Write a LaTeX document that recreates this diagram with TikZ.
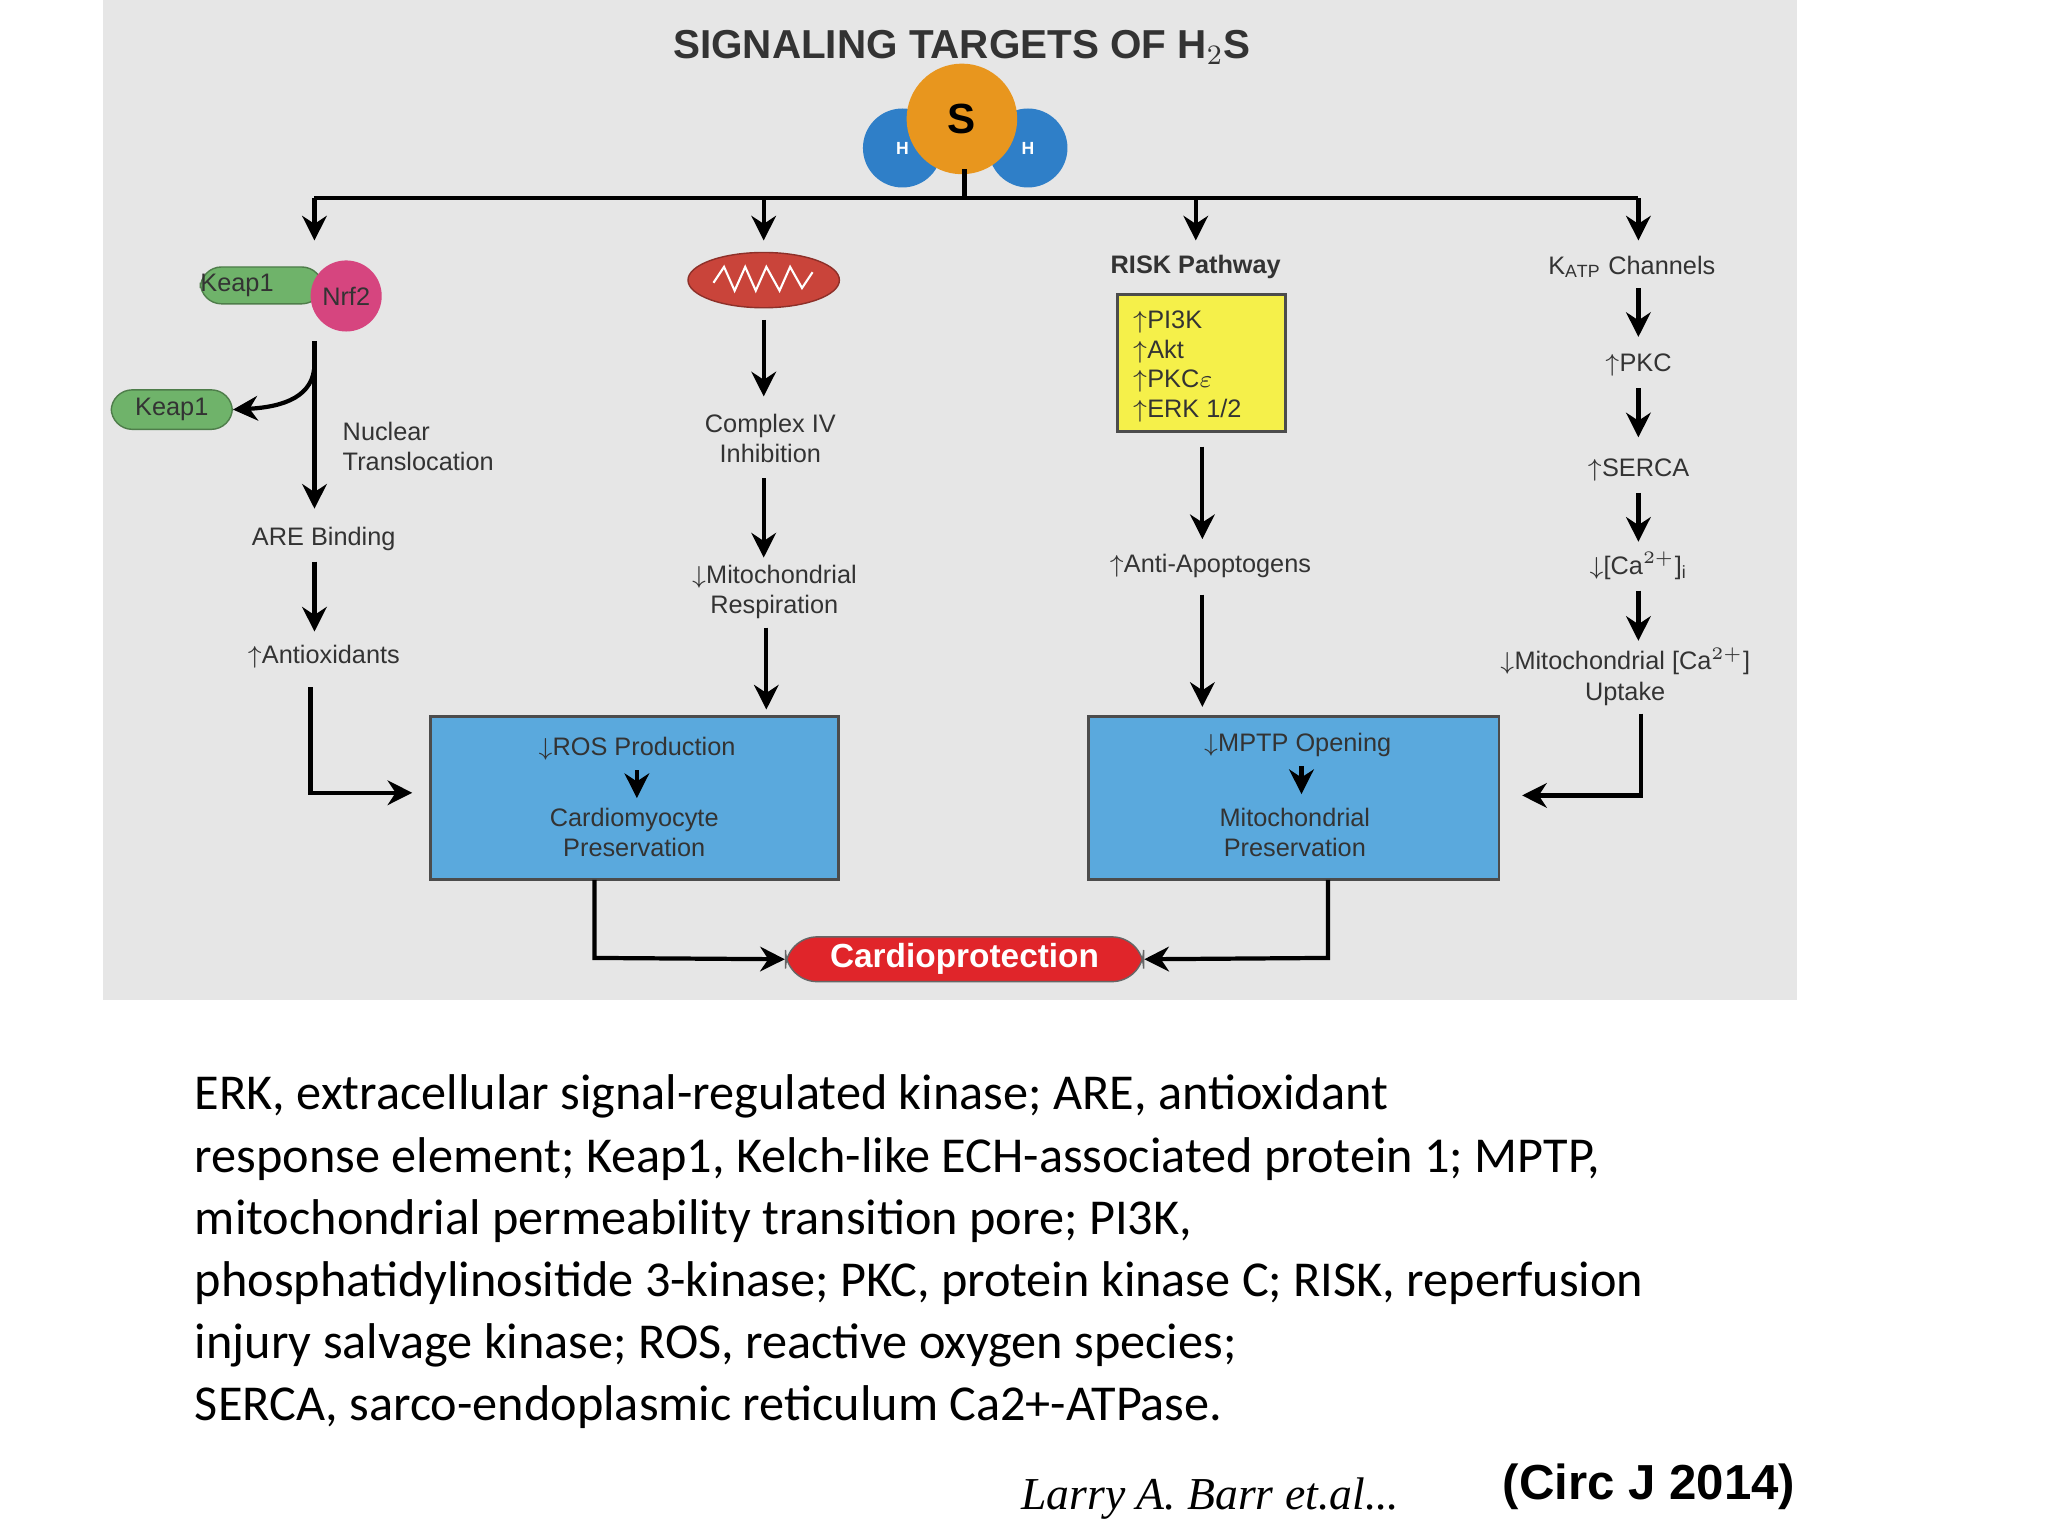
\documentclass[tikz,border=0pt]{standalone}
\usepackage{fontspec}
\setmainfont{Liberation Sans}
\newfontfamily\capfont{Carlito}
\newfontfamily\citefont{Liberation Serif}
\usetikzlibrary{arrows.meta,shapes.geometric}
\definecolor{bg}{HTML}{E6E6E6}
\definecolor{boxblue}{HTML}{5AA9DD}
\definecolor{sorange}{HTML}{E8961E}
\definecolor{hblue}{HTML}{2F7FC8}
\definecolor{kgreen}{HTML}{6FB36A}
\definecolor{npink}{HTML}{D6457F}
\definecolor{mred}{HTML}{C9443A}
\definecolor{cred}{HTML}{E0252A}
\definecolor{ybox}{HTML}{F5F04A}
\newcommand{\up}{$\uparrow$}
\newcommand{\dn}{$\downarrow$}
\newcommand{\px}[1]{#1*0.3746pt}
\begin{document}
\begin{tikzpicture}[x=0.013213cm,y=-0.013213cm,
  ar/.style={line width=1.2pt,-{Stealth[length=7pt,width=7pt]}},
  ln/.style={line width=1.2pt},
  t/.style={font=\fontsize{7.2}{8.6}\selectfont,align=center,text=black!80},
  bx/.style={draw=black!70,line width=0.8pt,fill=boxblue},
  captxt/.style={font=\capfont\fontsize{14.3}{17.6}\selectfont,anchor=west,inner sep=0}]
\useasboundingbox (0,0) rectangle (1550,1162.5);
\fill[white] (0,0) rectangle (1550,1162.5);
\fill[bg] (78,0) rectangle (1360,757);
\node[font=\bfseries\fontsize{11.5}{13}\selectfont,text=black!80] (title) at (728,36) {SIGNALING TARGETS OF H$_2$S};
% molecule
\node[circle,fill=hblue,minimum size=\px{60},inner sep=0,font=\bfseries\tiny,text=white] (h1) at (683,112) {H};
\node[circle,fill=hblue,minimum size=\px{60},inner sep=0,font=\bfseries\tiny,text=white] (h2) at (778,112) {H};
\node[circle,fill=sorange,minimum size=\px{84},inner sep=0,font=\bfseries\large] (s) at (728,90) {S};
\coordinate (top) at (730,150);
\draw[ln] (730,128) -- (top);
\draw[ln] (238,150) -- (1240,150);
\foreach \x in {238,578,905,1240} \draw[ar] (\x,150) -- (\x,182);
% column 1
\node[rounded corners=6pt,fill=kgreen,draw=kgreen!70!black,minimum width=\px{90},minimum height=\px{28},inner sep=0,t] (keap) at (198,216) {Keap1\hspace{14pt}};
\node[circle,fill=npink,minimum size=\px{54},inner sep=0,t] (nrf) at (262,224) {Nrf2};
\node[rounded corners=6pt,fill=kgreen,draw=kgreen!70!black,minimum width=\px{92},minimum height=\px{30},inner sep=0,t] (keap2) at (130,310) {Keap1};
\coordinate (c1a) at (238,258);
\draw[ar] (c1a) -- (238,385);
\draw[ar] (238,275) .. controls (238,300) and (215,308) .. (keap2.east);
\node[t,align=left,anchor=west] (nt) at (250,338) {Nuclear\\Translocation};
\node[t] (are) at (245,408) {ARE Binding};
\draw[ar] (238,425) -- (238,478);
\node[t] (anti) at (245,497) {\up Antioxidants};
% column 2
\node[ellipse,fill=mred,draw=mred!70!black,minimum width=\px{115},minimum height=\px{42},inner sep=0] (mito) at (578,212) {};
\draw[white,line width=0.6pt] (540,214) -- (548,202) -- (556,220) -- (564,202) -- (572,220) -- (580,202) -- (590,220) -- (598,202) -- (607,218) -- (615,206);
\draw[ar] (578,242) -- (578,300);
\node[t] (c4) at (583,332) {Complex IV\\Inhibition};
\draw[ar] (578,362) -- (578,422);
\node[t] (mr) at (586,448) {\dn Mitochondrial\\Respiration};
\draw[ar] (580,475) -- (580,537);
\node[bx,minimum width=\px{310},minimum height=\px{124},inner sep=0] (ros) at (480,604) {};
\node[t] (ros1) at (482,567) {\dn ROS Production};
\node[t] (ros2) at (480,630) {Cardiomyocyte\\Preservation};
\draw[ar] (482,583) -- (482,604);
% column 3
\node[t,font=\bfseries\fontsize{7.2}{8.6}\selectfont] (risk) at (905,202) {RISK Pathway};
\node[fill=ybox,draw=black!70,line width=0.8pt,minimum width=\px{127},minimum height=\px{104},inner sep=0,anchor=north west] (yb) at (845,222) {};
\node[t,align=left,anchor=north west,font=\fontsize{7.2}{8.4}\selectfont] (ybt) at (848,226) {\up PI3K\\\up Akt\\\up PKC$\varepsilon$\\\up ERK 1/2};
\draw[ar] (910,338) -- (910,408);
\node[t] (aa) at (916,428) {\up Anti-Apoptogens};
\draw[ar] (910,450) -- (910,535);
\node[bx,minimum width=\px{312},minimum height=\px{124},inner sep=0] (mptp) at (979,604) {};
\node[t] (mp1) at (982,564) {\dn MPTP Opening};
\node[t] (mp2) at (980,630) {Mitochondrial\\Preservation};
\draw[ar] (985,580) -- (985,601);
% column 4
\node[t] (katp) at (1235,202) {K$_{\mathrm{ATP}}$ Channels};
\draw[ar] (1240,218) -- (1240,255);
\node[t] (pkc) at (1240,276) {\up PKC};
\draw[ar] (1240,294) -- (1240,331);
\node[t] (serca) at (1240,356) {\up SERCA};
\draw[ar] (1240,373) -- (1240,410);
\node[t] (ca) at (1240,428) {\dn[Ca$^{2+}$]$_\mathrm{i}$};
\draw[ar] (1240,447) -- (1240,485);
\node[t] (mca) at (1230,512) {\dn Mitochondrial [Ca$^{2+}$]\\Uptake};
% connectors to boxes
\draw[ar] (235,520) -- (235,600) -- (312,600);
\draw[ar] (1242,540) -- (1242,602) -- (1152,602);
% cardioprotection
\node[rounded corners=9pt,fill=cred,draw=black!60,minimum width=\px{272},minimum height=\px{34},inner sep=0,text=white,font=\bfseries\fontsize{9.5}{11}\selectfont] (cardio) at (730,726) {Cardioprotection};
\draw[ar] (450,666) -- (450,725) -- (cardio.west);
\draw[ar] (1005,666) -- (1005,725) -- (cardio.east);
% caption
\node[captxt] (l1) at (147,830) {ERK, extracellular signal-regulated kinase; ARE, antioxidant};
\node[captxt] (l2) at (147,877) {response element; Keap1, Kelch-like ECH-associated protein 1; MPTP,};
\node[captxt] (l3) at (147,924) {mitochondrial permeability transition pore; PI3K,};
\node[captxt] (l4) at (147,971) {phosphatidylinositide 3-kinase; PKC, protein kinase C; RISK, reperfusion};
\node[captxt] (l5) at (147,1018) {injury salvage kinase; ROS, reactive oxygen species;};
\node[captxt] (l6) at (147,1065) {SERCA, sarco-endoplasmic reticulum Ca2+-ATPase.};
\node[font=\citefont\itshape\fontsize{13}{15}\selectfont] (auth) at (916,1134) {Larry A. Barr et.al...};
\node[font=\bfseries\fontsize{14}{16}\selectfont] (circ) at (1248,1125) {(Circ J 2014)};
\end{tikzpicture}
\end{document}
